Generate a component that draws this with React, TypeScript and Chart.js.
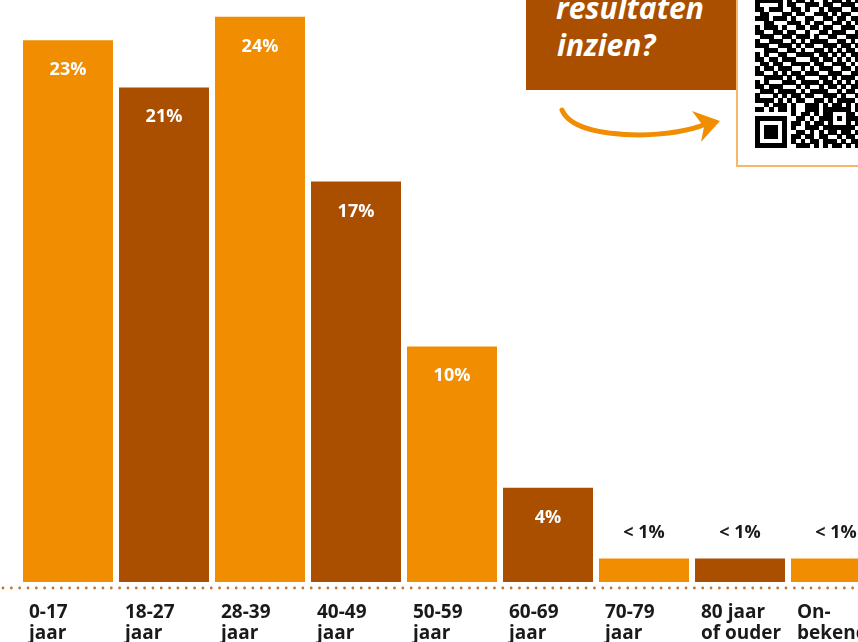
import React, { useEffect, useRef } from "react";
import { Chart, registerables } from "chart.js";

Chart.register(...registerables);

const categories: string[][] = [
  ["0-17", "jaar"],
  ["18-27", "jaar"],
  ["28-39", "jaar"],
  ["40-49", "jaar"],
  ["50-59", "jaar"],
  ["60-69", "jaar"],
  ["70-79", "jaar"],
  ["80 jaar", "of ouder"],
  ["On-", "bekend"],
];
const values: number[] = [23, 21, 24, 17, 10, 4, 1, 1, 1];
const valueLabels: string[] = ["23%", "21%", "24%", "17%", "10%", "4%", "< 1%", "< 1%", "< 1%"];

const ORANGE = "#F18D00";
const BROWN = "#AA4E00";
const barColors = values.map((_, i) => (i % 2 === 0 ? ORANGE : BROWN));

const qrRows: string[] = [
  "11111101011010010110101",
  "10000101100111011001110",
  "11011100110100101110011",
  "01100011011001110101100",
  "11101110100110011011011",
  "00110001110101100110101",
  "10111010011011011001110",
  "11001101100100110111001",
  "01110011011101001100111",
  "10011100101011110011010",
  "11100111010110011101101",
  "00111001101001101010110",
  "10100110011110110101011",
  "11011011100011011010101",
  "01101100111101100111010",
  "10110111001010111001101",
  "11001010110111001110011",
  "00111101011000110101110",
  "10100011101111011010101",
  "11011100010100101101011",
  "01110111101011110010110",
  "10001010110110011101001",
  "11110101011001101011110",
  "00101110100111010110101",
  "11010110100111011111101",
  "00000000101101011000110",
  "11111110011010111010111",
  "10000010110101101000101",
  "10111010100111011111110",
  "10111010011010101101101",
  "10111010110110110010110",
  "10000010101011011101011",
  "11111110011101010110101",
];

const FONT = "'Open Sans', Lato, sans-serif";

export default function App() {
  const canvasRef = useRef<HTMLCanvasElement | null>(null);

  useEffect(() => {
    if (!canvasRef.current) return;
    const labelsPlugin = {
      id: "customLabels",
      afterDatasetsDraw(chart: any) {
        const ctx = chart.ctx;
        const meta = chart.getDatasetMeta(0);
        const xScale = chart.scales.x;
        const yScale = chart.scales.y;
        ctx.save();
        ctx.textAlign = "center";
        ctx.textBaseline = "alphabetic";
        meta.data.forEach((bar: any, i: number) => {
          const big = values[i] >= 2;
          ctx.font = `bold 18px ${FONT}`;
          ctx.fillStyle = big ? "#FFFFFF" : "#1A1A1A";
          ctx.fillText(valueLabels[i], bar.x, big ? bar.y + 35 : bar.y - 20);
        });
        const baseY = yScale.getPixelForValue(0) + 6;
        ctx.fillStyle = "#C5722F";
        for (let x = 3; x < chart.width; x += 8.33) {
          ctx.beginPath();
          ctx.arc(x, baseY, 1.4, 0, Math.PI * 2);
          ctx.fill();
        }
        ctx.textAlign = "left";
        ctx.fillStyle = "#1A1A1A";
        ctx.font = `bold 19px ${FONT}`;
        categories.forEach((lines, i) => {
          const x = xScale.getPixelForValue(i) - 39;
          lines.forEach((t, j) => {
            ctx.fillText(t, x, baseY + 30 + j * 21);
          });
        });
        ctx.restore();
      },
    };

    const chart = new Chart(canvasRef.current, {
      type: "bar",
      data: {
        labels: categories.map((c) => c.join(" ")),
        datasets: [
          {
            data: values,
            backgroundColor: barColors,
            borderWidth: 0,
            categoryPercentage: 1,
            barPercentage: 0.9375,
          },
        ],
      },
      options: {
        animation: false,
        responsive: true,
        maintainAspectRatio: false,
        layout: { padding: { left: 20, right: 16, top: 0, bottom: 60 } },
        plugins: { legend: { display: false }, tooltip: { enabled: false } },
        scales: {
          x: { display: false },
          y: { display: false, min: 0, max: 24.71 },
        },
      },
      plugins: [labelsPlugin],
    });
    return () => chart.destroy();
  }, []);

  const mod = 4.55;
  const qrX = 755;
  const qrY = 148 - qrRows.length * mod;

  return (
    <div
      style={{
        position: "fixed",
        left: 0,
        top: 0,
        width: 858,
        height: 642,
        overflow: "hidden",
        background: "#FFFFFF",
      }}
    >
      <div style={{ position: "absolute", left: 0, top: 0, width: 900, height: 642 }}>
        <canvas ref={canvasRef} />
      </div>
      <div
        style={{
          position: "absolute",
          left: 526,
          top: -10,
          width: 210,
          height: 100,
          background: BROWN,
        }}
      />
      <div
        style={{
          position: "absolute",
          left: 556,
          top: 0,
          color: "#FFFFFF",
          fontFamily: FONT,
          fontWeight: 700,
          fontStyle: "italic",
          fontSize: 30,
        }}
      >
        <div style={{ position: "absolute", left: 0, top: -12, lineHeight: "40px", whiteSpace: "nowrap" }}>resultaten</div>
        <div style={{ position: "absolute", left: 1, top: 25, lineHeight: "40px", whiteSpace: "nowrap" }}>inzien?</div>
      </div>
      <div
        style={{
          position: "absolute",
          left: 736,
          top: -10,
          width: 140,
          height: 177,
          background: "#FFFFFF",
          border: "2px solid #F6B868",
          boxSizing: "border-box",
        }}
      />
      <svg
        width={858}
        height={642}
        style={{ position: "absolute", left: 0, top: 0, pointerEvents: "none" }}
        shapeRendering="crispEdges"
      >
        {qrRows.map((row, r) =>
          row.split("").map((c, k) =>
            c === "1" ? (
              <rect
                key={`${r}-${k}`}
                x={qrX + k * mod}
                y={qrY + r * mod}
                width={mod + 0.3}
                height={mod + 0.3}
                fill="#000000"
              />
            ) : null
          )
        )}
        <g shapeRendering="geometricPrecision">
          <path
            d="M562,110 Q572,134 640,135 Q682,134 706,124"
            fill="none"
            stroke={ORANGE}
            strokeWidth={5}
            strokeLinecap="round"
          />
          <path d="M692,111 L720,121 L701,142 L704,127 Z" fill={ORANGE} />
        </g>
      </svg>
    </div>
  );
}
